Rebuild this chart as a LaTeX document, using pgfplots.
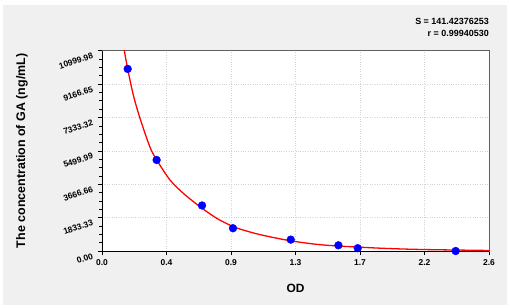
\documentclass[border=0pt]{standalone}
\usepackage{pgfplots}
\pgfplotsset{compat=1.18}
\usepackage{fontspec}
\setmainfont{Liberation Sans}
\definecolor{bg}{HTML}{F0F0F0}
\definecolor{gridc}{HTML}{D2D2D2}
\definecolor{frame}{HTML}{606060}
\begin{document}
\begin{tikzpicture}
\fill[white] (0bp,0bp) rectangle (510bp,308bp);
\fill[bg] (3bp,3bp) rectangle (507bp,303bp);
\begin{axis}[
  at={(102bp,57bp)}, anchor=south west,
  scale only axis, width=387bp, height=200.3bp,
  xmin=0, xmax=2.6, ymin=0, ymax=10999.98,
  axis background/.style={fill=white},
  axis line style={frame, line width=0.8pt},
  xtick={0,0.433333,0.866667,1.3,1.733333,2.166667,2.6},
  xticklabels={0.0,0.4,0.9,1.3,1.7,2.2,2.6},
  ytick={0,1833.33,3666.66,5499.99,7333.32,9166.65,10999.98},
  yticklabels={0.00,1833.33,3666.66,5499.99,7333.32,9166.65,10999.98},
  scaled y ticks=false, scaled x ticks=false,
  minor x tick num=3, minor y tick num=3,
  tick align=outside, xtick pos=bottom, ytick pos=left,
  major tick length=4bp, minor tick length=3bp,
  every tick/.style={black, line width=0.6pt},
  grid=major,
  major grid style={gridc, dotted, line width=0.6pt},
  xticklabel style={font=\fontsize{8.5}{10}\selectfont\bfseries, yshift=-1.5bp},
  yticklabel style={font=\fontsize{8.5}{10}\selectfont\bfseries, rotate=18, anchor=east, yshift=-3bp, xshift=-3bp},
  xlabel={OD},
  ylabel={The concentration of GA (ng/mL)},
  xlabel style={font=\fontsize{12}{14}\selectfont\bfseries, at={(axis description cs:0.5,-0.185)}, anchor=center},
  ylabel style={font=\fontsize{12.5}{14}\selectfont\bfseries, at={(axis description cs:-0.207,0.5)}, anchor=center},
  clip=true,
  after end axis/.code={
    \draw[black, line width=1pt] (rel axis cs:0,1) -- (rel axis cs:0,0) -- (rel axis cs:1,0);
  },
]
\addplot[red, line width=1.3pt, smooth, tension=0.5] coordinates {
(0.140,11600) (0.148,11100) (0.1727,9995) (0.2103,8568) (0.2553,7288) (0.3225,5700)
(0.3675,5000) (0.4568,3899) (0.5462,3169) (0.6584,2433) (0.7706,1796)
(0.8821,1334) (0.95,1150) (1.0615,900) (1.263,566) (1.487,330) (1.80,181)
(2.0,115) (2.2,75) (2.59,30) (2.6,28)
};
\addplot[only marks, mark=*, mark size=3.9bp, color=blue, mark options={fill=blue, draw=blue}] coordinates {
(0.1726,10000) (0.367,5000) (0.672,2500) (0.880,1250) (1.268,625) (1.588,312.5) (1.718,156) (2.376,0)
};
\end{axis}
\node[anchor=east, font=\fontsize{9}{10}\selectfont\bfseries, inner sep=0pt] at (489bp,287bp) {S = 141.42376253};
\node[anchor=east, font=\fontsize{9}{10}\selectfont\bfseries, inner sep=0pt] at (489bp,275bp) {r = 0.99940530};
\end{tikzpicture}
\end{document}
